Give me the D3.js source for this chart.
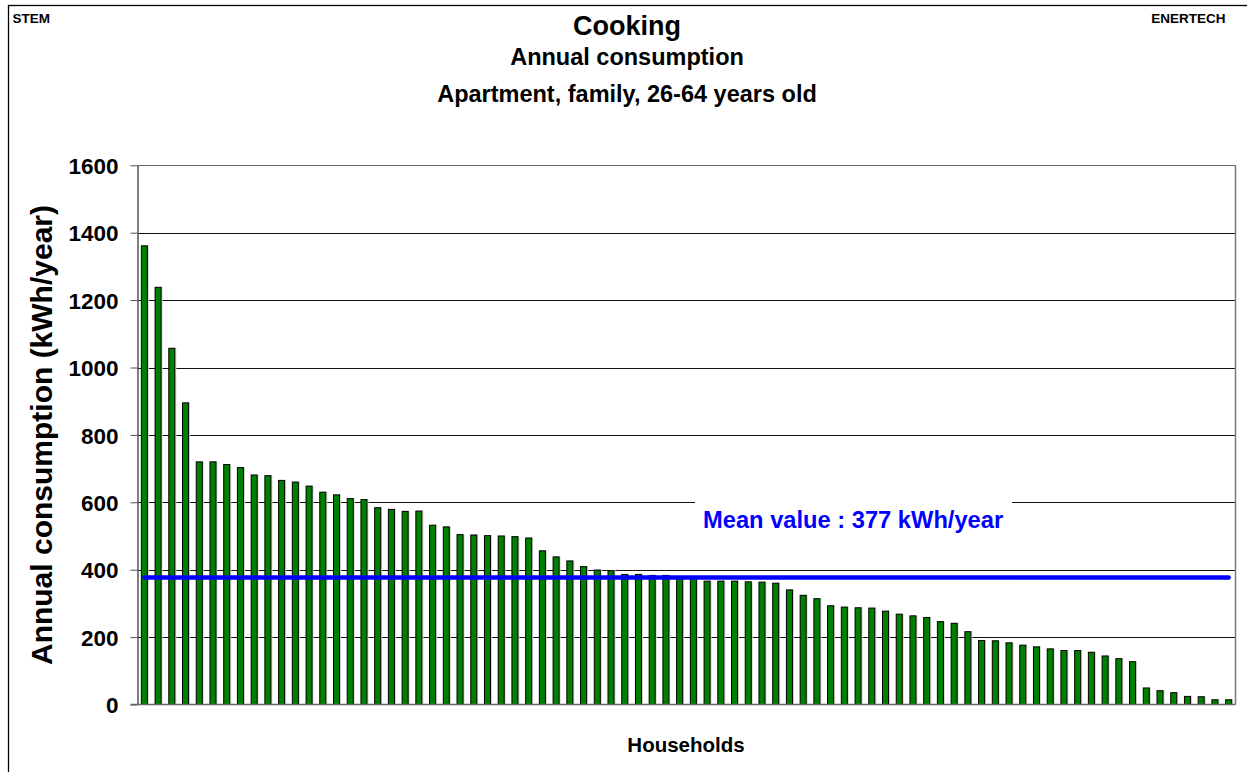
<!DOCTYPE html>
<html>
<head>
<meta charset="utf-8">
<script src="https://cdn.jsdelivr.net/npm/d3@7"></script>
<style>
  html, body { margin: 0; padding: 0; background: #fff; }
  svg { display: block; font-family: "Liberation Sans", Arial, Helvetica, sans-serif; font-weight: bold; }
</style>
</head>
<body>
<svg id="chart" width="1247" height="772"></svg>
<script>
// ---- data ----
const households = d3.range(1, 81);
const consumption = [
  1361, 1238, 1057, 895, 720, 720, 712, 703, 681, 679,
  665, 660, 648, 630, 622, 611, 608, 584, 579, 573,
  574, 532, 527, 504, 503, 501, 500, 498, 494, 456,
  438, 426, 409, 399, 397, 386, 386, 383, 383, 378,
  375, 366, 366, 366, 364, 363, 360, 340, 324, 314,
  293, 289, 287, 286, 277, 268, 263, 258, 246, 241,
  216, 190, 189, 183, 176, 171, 165, 160, 160, 155,
  144, 136, 127, 49, 41, 35, 24, 23, 14, 14
];
const yTicks = [0, 200, 400, 600, 800, 1000, 1200, 1400, 1600];
const meanValue = 377;
const meanLabel = "Mean value : 377 kWh/year";
const titles = ["Cooking", "Annual consumption", "Apartment, family, 26-64 years old"];
const xTitle = "Households";
const yTitle = "Annual consumption (kWh/year)";

// ---- layout ----
const svg = d3.select("#chart");
const pLeft = 137.5, pRight = 1235.5, pTop = 165.3, pBottom = 704.5;

const x = d3.scaleBand().domain(households).range([pLeft, pRight])
  .paddingInner(0.56).paddingOuter(0.28);
const y = d3.scaleLinear().domain([0, 1600]).range([pBottom, pTop]);

// outer frame
svg.append("rect").attr("x", 8.5).attr("y", 5.5).attr("width", 1300).attr("height", 900)
  .attr("fill", "none").attr("stroke", "#000").attr("stroke-width", 1.3);

// header texts
svg.append("text").attr("x", 12.5).attr("y", 22.5).attr("font-size", 13.5).text("STEM");
svg.append("text").attr("x", 1225.5).attr("y", 22.5).attr("font-size", 13.5)
  .attr("text-anchor", "end").text("ENERTECH");

// titles
svg.append("text").attr("x", 627).attr("y", 35).attr("text-anchor", "middle")
  .attr("font-size", 27).text(titles[0]);
svg.append("text").attr("x", 627).attr("y", 65).attr("text-anchor", "middle")
  .attr("font-size", 23.5).text(titles[1]);
svg.append("text").attr("x", 627).attr("y", 102).attr("text-anchor", "middle")
  .attr("font-size", 23.5).text(titles[2]);

// gridlines
svg.append("g").selectAll("line").data(yTicks.filter(d => d > 0)).join("line")
  .attr("x1", pLeft).attr("x2", pRight)
  .attr("y1", d => Math.round(y(d)) + 0.5).attr("y2", d => Math.round(y(d)) + 0.5)
  .attr("stroke", d => d === 1600 ? "#666" : "#111").attr("stroke-width", 1);

// right border
svg.append("line").attr("x1", pRight).attr("x2", pRight).attr("y1", pTop).attr("y2", pBottom)
  .attr("stroke", "#777").attr("stroke-width", 1.5);

// bars: shadow + bar
const bw = x.bandwidth();
svg.append("g").selectAll("rect").data(consumption).join("rect")
  .attr("x", (d, i) => x(households[i]) + 1.5)
  .attr("y", d => y(d) - 0.5)
  .attr("width", bw)
  .attr("height", d => pBottom - y(d) + 0.5)
  .attr("fill", "#d6d6d6");
svg.append("g").selectAll("rect").data(consumption).join("rect")
  .attr("x", (d, i) => x(households[i]))
  .attr("y", d => y(d))
  .attr("width", bw)
  .attr("height", d => pBottom - y(d))
  .attr("fill", "#008000").attr("stroke", "#000").attr("stroke-width", 1);

// white background behind the mean label
svg.append("rect").attr("x", 695).attr("y", 496).attr("width", 317).attr("height", 52)
  .attr("fill", "#fff");

// mean line
const xFirst = x(households[0]) + bw / 2;
const xLast = x(households[households.length - 1]) + bw / 2;
svg.append("line").attr("x1", xFirst).attr("x2", xLast)
  .attr("y1", y(meanValue)).attr("y2", y(meanValue))
  .attr("stroke", "#0000ff").attr("stroke-width", 4.5).attr("stroke-linecap", "round");

svg.append("text").attr("x", 703).attr("y", 527.5).attr("font-size", 23.7)
  .attr("fill", "#0000ff").text(meanLabel);

// y axis
const yAxis = d3.axisLeft(y).tickValues(yTicks).tickFormat(d3.format("d"))
  .tickSize(7).tickPadding(12).tickSizeOuter(0);
const gy = svg.append("g").attr("transform", `translate(${pLeft},0)`).call(yAxis);
gy.select(".domain").attr("stroke", "#555").attr("stroke-width", 1.5);
gy.selectAll(".tick line").attr("stroke", "#555").attr("stroke-width", 1);
gy.selectAll(".tick text").attr("font-size", 22.5).attr("font-family", "Liberation Sans, Arial, sans-serif")
  .attr("font-weight", "bold").attr("fill", "#000").attr("dy", "0.36em");

// x axis line
svg.append("line").attr("x1", pLeft - 7).attr("x2", pRight).attr("y1", pBottom).attr("y2", pBottom)
  .attr("stroke", "#666").attr("stroke-width", 1.5);

// axis titles
svg.append("text").attr("x", 686).attr("y", 752).attr("text-anchor", "middle")
  .attr("font-size", 20.5).text(xTitle);
svg.append("text").attr("transform", "translate(52,435) rotate(-90)")
  .attr("text-anchor", "middle").attr("font-size", 30).text(yTitle);
</script>
</body>
</html>
